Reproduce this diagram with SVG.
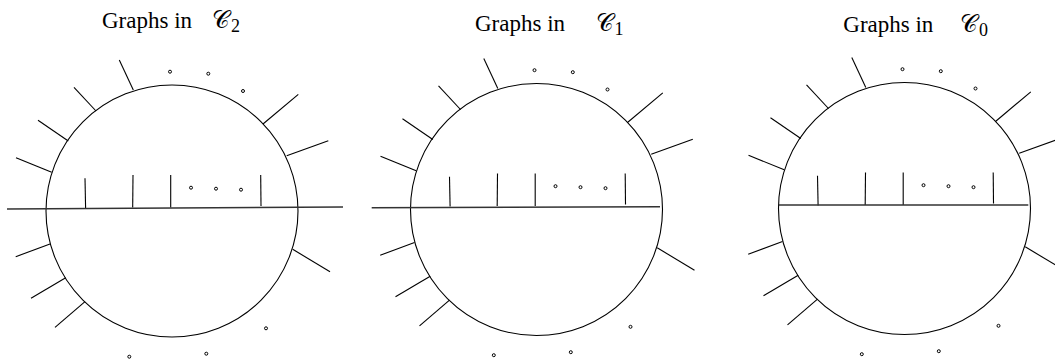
<svg xmlns="http://www.w3.org/2000/svg" width="1055" height="360" viewBox="0 0 1055 360">
<style>
.t{font-family:"Liberation Serif","Times New Roman",serif;font-size:23px;fill:#000}
.c{font-family:"DejaVu Serif","Liberation Serif",serif;font-size:24px;fill:#000}
.s{font-family:"Liberation Serif",serif;font-style:normal;font-size:18px;fill:#000}
.circ{fill:none;stroke:#000;stroke-width:1.1}
.sp line{stroke:#000;stroke-width:1.1}
.hl{stroke:#333;stroke-width:1.4}
.dot{fill:none;stroke:#000;stroke-width:1}
</style>
<defs>
<g id="base">
<circle class="circ" cx="172" cy="211" r="126"/>
<g class="sp">
<line x1="133.3" y1="90" x2="119.3" y2="60"/>
<line x1="96" y1="111" x2="74" y2="87.3"/>
<line x1="68.3" y1="141" x2="38" y2="120.3"/>
<line x1="51.7" y1="172.3" x2="16" y2="157.7"/>
<line x1="50" y1="244" x2="15.7" y2="256.7"/>
<line x1="65.7" y1="277.7" x2="31" y2="298.3"/>
<line x1="85" y1="301.7" x2="55" y2="327.3"/>
<line x1="263" y1="124" x2="298.3" y2="94.3"/>
<line x1="286.7" y1="155.7" x2="328.3" y2="140.7"/>
<line x1="292.7" y1="249.3" x2="330" y2="271.7"/>
<line x1="85" y1="178.3" x2="85.6" y2="208"/>
<line x1="133" y1="175" x2="132.7" y2="207.5"/>
<line x1="170.7" y1="175" x2="170.7" y2="207.5"/>
<line x1="260.7" y1="175" x2="261" y2="206"/>
</g>
<g class="dot">
<circle cx="170" cy="71.7" r="1.5"/>
<circle cx="208.3" cy="73.7" r="1.5"/>
<circle cx="243" cy="91" r="1.5"/>
<circle cx="266" cy="328.3" r="1.5"/>
<circle cx="206.3" cy="353.7" r="1.5"/>
<circle cx="129.3" cy="356.7" r="1.5"/>
<circle cx="191" cy="187.7" r="1.5"/>
<circle cx="216" cy="188.7" r="1.5"/>
<circle cx="241" cy="189.7" r="1.5"/>
</g>
</g>
</defs>
<g id="panel-c2">
<text class="t" x="102" y="28">Graphs in</text>
<text class="c" x="212" y="28">𝒞<tspan class="s" x="231" y="32">2</tspan></text>
<use href="#base"/>
<line class="hl" x1="7" y1="209" x2="343" y2="207"/>
</g>
<g id="panel-c1" transform="translate(364.5,-1.5)">
<text class="t" x="110.5" y="32">Graphs in</text>
<text class="c" x="231" y="32">𝒞<tspan class="s" x="250" y="36">1</tspan></text>
<use href="#base"/>
<line class="hl" x1="7.2" y1="209.2" x2="295.5" y2="208.2"/>
</g>
<g id="panel-c0" transform="translate(732.5,-2.5)">
<text class="t" x="110.8" y="34">Graphs in</text>
<text class="c" x="227.5" y="34">𝒞<tspan class="s" x="246.5" y="38">0</tspan></text>
<use href="#base"/>
<line class="hl" x1="46.5" y1="207.5" x2="295.8" y2="207.5"/>
</g>
</svg>
